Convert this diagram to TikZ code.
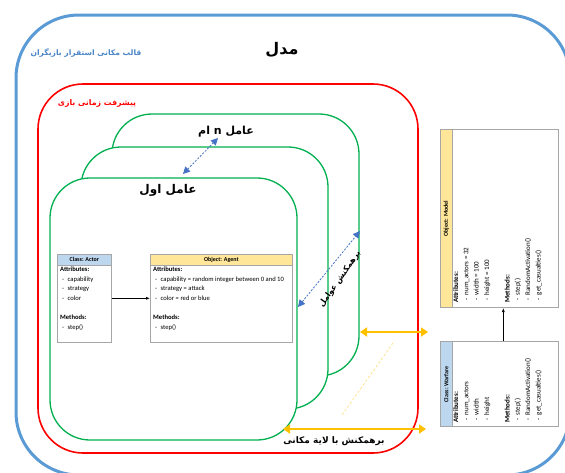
\documentclass[tikz,border=0pt]{standalone}
\usepackage{fontspec}
\setmainfont{Carlito}
\newfontfamily\arabicfont[Script=Arabic]{DejaVu Sans}
\TeXXeTstate=1
\usetikzlibrary{arrows.meta,calc}
\definecolor{outerblue}{HTML}{5B9BD5}
\definecolor{labelblue}{HTML}{4A86C8}
\definecolor{redline}{HTML}{FF0000}
\definecolor{greenline}{HTML}{00B050}
\definecolor{orangeline}{HTML}{FFC000}
\definecolor{dashblue}{HTML}{4472C4}
\definecolor{umlgray}{HTML}{A6A6A6}
\definecolor{classblue}{HTML}{BDD7EE}
\definecolor{objyellow}{HTML}{FFE699}
\newcommand\itm[1]{\hspace*{2pt}-\hspace{3.5pt}#1}
\tikzset{
  greenbox/.style={draw=greenline, fill=white, line width=1.3pt, rounded corners=40pt},
  umlbox/.style={draw=umlgray, fill=white, line width=0.6pt, inner sep=0pt, anchor=north west},
  umlhead/.style={draw=umlgray, line width=0.6pt, inner sep=0pt, anchor=north west,
    font=\fontsize{6}{6}\selectfont\bfseries},
  umltext/.style={inner sep=0pt, anchor=north west, align=left,
    font=\fontsize{6.6}{9.7}\selectfont},
  umlrtext/.style={inner sep=0pt, anchor=north west, align=left,
    font=\fontsize{7}{10.3}\selectfont},
  fa/.style={inner sep=0pt, font=\arabicfont\bfseries\fontsize{#1}{#1}\selectfont},
  bluedash/.style={draw=dashblue, line width=0.8pt, dash pattern=on 2pt off 1.5pt,
    {Triangle[length=7pt,width=7pt]}-{Triangle[length=7pt,width=7pt]}},
  orangearrow/.style={draw=orangeline, line width=1.8pt,
    {Triangle[length=7pt,width=9pt]}-{Triangle[length=7pt,width=9pt]}},
  umlarrow/.style={draw=black, line width=0.7pt, -{Latex[length=4pt,width=3pt]}},
}
\begin{document}
\begin{tikzpicture}[x=1pt,y=-1pt]
\useasboundingbox (0,0) rectangle (565,472);
\fill[white] (0,0) rectangle (565,472);
% outer blue frame
\begin{scope}
  \clip (0,0) rectangle (565,472);
  \draw[outerblue, line width=3pt, rounded corners=63pt] (16,15) rectangle (570,475);
\end{scope}
\node[fa=16] (title) at (282,50) {\beginR مدل\endR};
\node[fa=7.6, text=labelblue] (spacelbl) at (86,53) {\beginR قالب مکانی استقرار بازیگران\endR};
% red frame
\draw[redline, line width=1.6pt, rounded corners=45pt] (38,84) rectangle (418,453);
\node[fa=7.8, text=redline] (timelbl) at (97,103) {\beginR پیشرفت زمانی بازی\endR};
% green agent frames
\draw[greenbox] (112,114) rectangle (359,376);
\draw[greenbox] (81,147) rectangle (328,409);
\draw[greenbox] (50,178) rectangle (297,440);
\node[fa=11] (agentn) at (226,132) {\beginR عامل n ام\endR};
\node[fa=12] (agent1) at (168,190) {\beginR عامل اول\endR};
% interaction arrows
\coordinate (da1) at (183,174);
\coordinate (da2) at (218,138);
\draw[bluedash] (da1) -- (da2);
\coordinate (db1) at (298,307);
\coordinate (db2) at (360,231);
\draw[bluedash] (db1) -- (db2);
\node[fa=8, rotate=55] (agentint) at (340,279) {\beginR برهمکنش عوامل\endR};
\coordinate (oa1) at (360,332);
\coordinate (oa2) at (428,332);
\draw[orangearrow] (oa1) -- (oa2);
\coordinate (ob1) at (283,429);
\coordinate (ob2) at (426,429);
\draw[orangearrow] (ob1) -- (ob2);
\coordinate (fd1) at (393,343);
\coordinate (fd2) at (342,415);
\draw[orangeline!55, line width=0.6pt, dash pattern=on 2.5pt off 2pt] (fd1) -- (fd2);
\node[fa=9] (spaceint) at (334,441) {\beginR برهمکنش با لایة مکانی\endR};
% Class: Actor
\node[umlbox, minimum width=54pt, minimum height=88pt] (actor) at (57,254) {};
\node[umlhead, fill=classblue, minimum width=54pt, minimum height=10.5pt] (actorhead) at (57,254) {Class: Actor};
\node[umltext] (actortext) at (60,266.5) {\textbf{Attributes:}\\ \itm{capability}\\ \itm{strategy}\\ \itm{color}\\[9.7pt] \textbf{Methods:}\\ \itm{step()}};
% Object: Agent
\node[umlbox, minimum width=142pt, minimum height=88pt] (agent) at (150,254) {};
\node[umlhead, fill=objyellow, minimum width=142pt, minimum height=10.5pt] (agenthead) at (150,254) {Object: Agent};
\node[umltext] (agenttext) at (153,266.5) {\textbf{Attributes:}\\ \itm{capability = random integer between 0 and 10}\\ \itm{strategy = attack}\\ \itm{color = red or blue}\\[9.7pt] \textbf{Methods:}\\ \itm{step()}};
\draw[umlarrow] (actor.east) -- (agent.west);
% Object: Model (rotated)
\begin{scope}[shift={(440,308)}, rotate=90, transform shape]
  \node[umlbox, minimum width=178pt, minimum height=118pt] (model) at (0,0) {};
  \node[umlhead, fill=objyellow, minimum width=178pt, minimum height=12pt] (modelhead) at (0,0) {Object: Model};
  \node[umlrtext] (modeltext) at (5,13) {\textbf{Attributes:}\\ \itm{num\_actors = 32}\\ \itm{width = 100}\\ \itm{height = 100}\\[10.3pt] \textbf{Methods:}\\ \itm{step()}\\ \itm{RandomActivation()}\\ \itm{get\_casualties()}};
\end{scope}
% Class: Warfare (rotated)
\begin{scope}[shift={(440,427)}, rotate=90, transform shape]
  \node[umlbox, minimum width=85pt, minimum height=118pt] (warfare) at (0,0) {};
  \node[umlhead, fill=classblue, minimum width=85pt, minimum height=12pt] (warfarehead) at (0,0) {Class: Warfare};
  \node[umlrtext] (warfaretext) at (4,13) {\textbf{Attributes:}\\ \itm{num\_actors}\\ \itm{width}\\ \itm{height}\\[10.3pt] \textbf{Methods:}\\ \itm{step()}\\ \itm{RandomActivation()}\\ \itm{get\_casualties()}};
\end{scope}
\draw[umlarrow] ([xshift=4pt]warfare.east) -- ([xshift=4pt]model.west);
\end{tikzpicture}
\end{document}
